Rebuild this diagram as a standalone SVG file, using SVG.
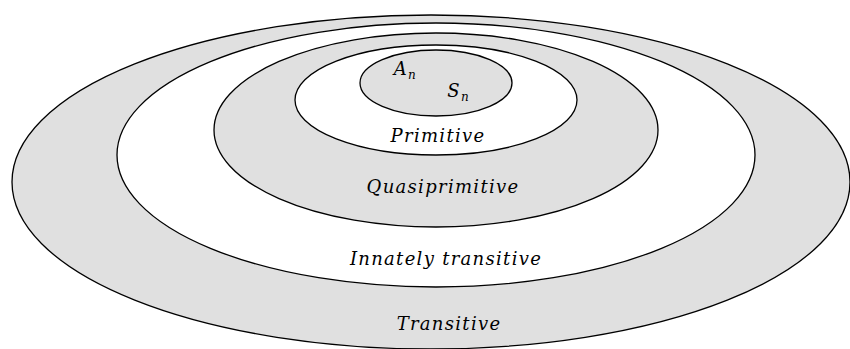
<svg xmlns="http://www.w3.org/2000/svg" width="850" height="349" viewBox="0 0 850 349">
<style>
.g{fill:#e0e0e0;stroke:#000;stroke-width:1.3}
.w{fill:#fff;stroke:#000;stroke-width:1.3}
text{font-family:"DejaVu Serif","Liberation Serif",serif;font-style:italic;font-size:18px;letter-spacing:1.3px;fill:#000;text-anchor:middle}
.s{font-size:12px;letter-spacing:0;text-anchor:start}
</style>
<rect width="850" height="349" fill="#fff"/>
<g id="transitive">
<ellipse class="g" cx="431" cy="182" rx="419" ry="167"/>
<text x="449" y="330">Transitive</text>
</g>
<g id="innately-transitive">
<ellipse class="w" cx="436" cy="155" rx="319" ry="132"/>
<text x="446" y="265">Innately transitive</text>
</g>
<g id="quasiprimitive">
<ellipse class="g" cx="436" cy="130" rx="222" ry="97"/>
<text x="443" y="193">Quasiprimitive</text>
</g>
<g id="primitive">
<ellipse class="w" cx="436" cy="100" rx="141" ry="55"/>
<text x="438" y="142">Primitive</text>
</g>
<g id="an-sn">
<ellipse class="g" cx="436" cy="83" rx="76" ry="33"/>
<text x="401" y="75">A</text><text class="s" x="408" y="79">n</text>
<text x="454" y="97">S</text><text class="s" x="461" y="101">n</text>
</g>
<g id="connectors"></g>
</svg>
